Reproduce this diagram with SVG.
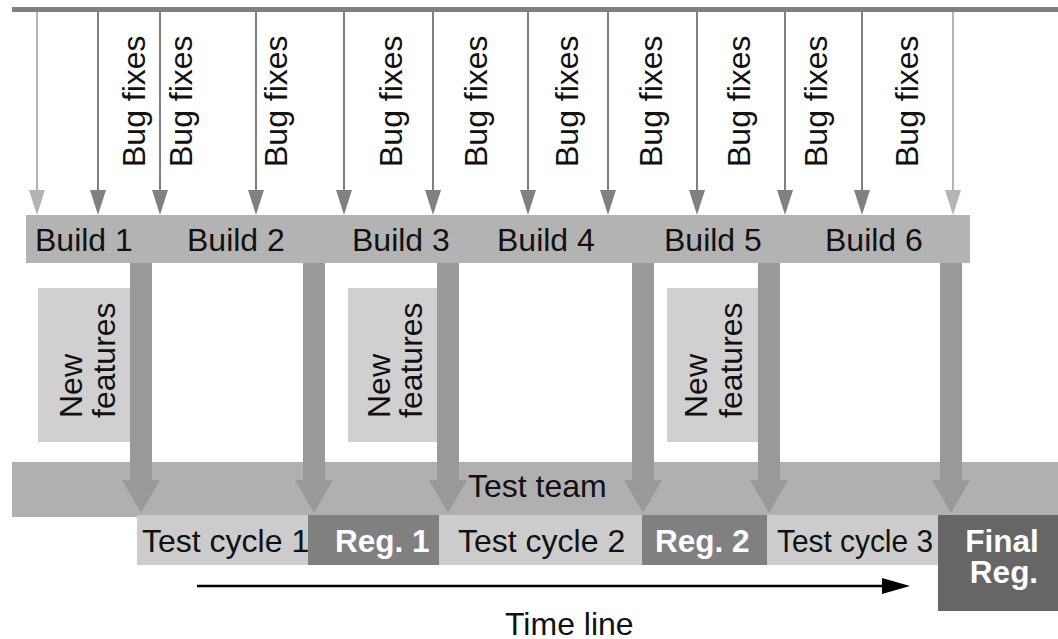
<svg xmlns="http://www.w3.org/2000/svg" width="1058" height="639" viewBox="0 0 1058 639">
<style>
text{font-family:"Liberation Sans",Arial,sans-serif;font-size:32px;fill:#111}
.w{fill:#fff;font-weight:bold;font-size:31.5px}
.thin{stroke:#808080;stroke-width:2;fill:none}
.thinL{stroke:#b4b4b4;stroke-width:2;fill:none}
.head{fill:#808080}
.headL{fill:#b4b4b4}
.thick{fill:#999999}
</style>
<rect x="12" y="7" width="1046" height="5" fill="#808080"/>
<g id="connectors">
<path class="thinL" d="M37 12V192"/><polygon class="headL" points="29,190 45,190 37,215"/>
<path class="thin" d="M98 12V192"/><polygon class="head" points="90,190 106,190 98,215"/>
<path class="thin" d="M160 12V192"/><polygon class="head" points="152,190 168,190 160,215"/>
<path class="thin" d="M256 12V192"/><polygon class="head" points="248,190 264,190 256,215"/>
<path class="thin" d="M344 12V192"/><polygon class="head" points="336,190 352,190 344,215"/>
<path class="thin" d="M433 12V192"/><polygon class="head" points="425,190 441,190 433,215"/>
<path class="thin" d="M528 12V192"/><polygon class="head" points="520,190 536,190 528,215"/>
<path class="thin" d="M608 12V192"/><polygon class="head" points="600,190 616,190 608,215"/>
<path class="thin" d="M697 12V192"/><polygon class="head" points="689,190 705,190 697,215"/>
<path class="thin" d="M785 12V192"/><polygon class="head" points="777,190 793,190 785,215"/>
<path class="thin" d="M862 12V192"/><polygon class="head" points="854,190 870,190 862,215"/>
<path class="thinL" d="M953 12V192"/><polygon class="headL" points="945,190 961,190 953,215"/>
</g>
<g id="bugfix-labels">
<text transform="translate(145,167) rotate(-90)">Bug fixes</text>
<text transform="translate(192,167) rotate(-90)">Bug fixes</text>
<text transform="translate(287,167) rotate(-90)">Bug fixes</text>
<text transform="translate(402,167) rotate(-90)">Bug fixes</text>
<text transform="translate(487,167) rotate(-90)">Bug fixes</text>
<text transform="translate(578,167) rotate(-90)">Bug fixes</text>
<text transform="translate(662,167) rotate(-90)">Bug fixes</text>
<text transform="translate(750,167) rotate(-90)">Bug fixes</text>
<text transform="translate(827,167) rotate(-90)">Bug fixes</text>
<text transform="translate(918,167) rotate(-90)">Bug fixes</text>
</g>
<g id="builds">
<rect x="26" y="215" width="944" height="48" fill="#b3b3b3"/>
<text x="35" y="251">Build 1</text>
<text x="187" y="251">Build 2</text>
<text x="352" y="251">Build 3</text>
<text x="497" y="251">Build 4</text>
<text x="664" y="251">Build 5</text>
<text x="825" y="251">Build 6</text>
</g>
<g id="new-features-1">
<rect x="38" y="288" width="100" height="154" fill="#d0d0d0"/>
<text transform="translate(82,418) rotate(-90)">New</text>
<text transform="translate(115,418) rotate(-90)">features</text>
</g>
<g id="new-features-2">
<rect x="348" y="288" width="100" height="154" fill="#d0d0d0"/>
<text transform="translate(390,418) rotate(-90)">New</text>
<text transform="translate(422,418) rotate(-90)">features</text>
</g>
<g id="new-features-3">
<rect x="667" y="288" width="100" height="154" fill="#d0d0d0"/>
<text transform="translate(707,418) rotate(-90)">New</text>
<text transform="translate(742,418) rotate(-90)">features</text>
</g>
<g id="test-team">
<rect x="12" y="462" width="1046" height="55" fill="#b0b0b0"/>
<text x="468" y="497">Test team</text>
</g>
<g id="thick-arrows">
<polygon class="thick" points="130,263 152,263 152,480 160,480 141,513 122,480 130,480"/>
<polygon class="thick" points="303,263 325,263 325,480 333,480 314,513 295,480 303,480"/>
<polygon class="thick" points="437,263 459,263 459,480 467,480 448,513 429,480 437,480"/>
<polygon class="thick" points="632,263 654,263 654,480 662,480 643,513 624,480 632,480"/>
<polygon class="thick" points="758,263 780,263 780,480 788,480 769,513 750,480 758,480"/>
<polygon class="thick" points="940,263 962,263 962,480 970,480 951,513 932,480 940,480"/>
</g>
<g id="test-cycle-1">
<rect x="137" y="515" width="171" height="50" fill="#cccccc"/>
<text x="142" y="552">Test cycle 1</text>
</g>
<g id="reg-1">
<rect x="308" y="515" width="131" height="50" fill="#808080"/>
<text class="w" x="335" y="552">Reg. 1</text>
</g>
<g id="test-cycle-2">
<rect x="439" y="515" width="203" height="50" fill="#cccccc"/>
<text x="458" y="552">Test cycle 2</text>
</g>
<g id="reg-2">
<rect x="642" y="515" width="125" height="50" fill="#808080"/>
<text class="w" x="655" y="552">Reg. 2</text>
</g>
<g id="test-cycle-3">
<rect x="767" y="515" width="171" height="50" fill="#cccccc"/>
<text x="777" y="552" textLength="156" lengthAdjust="spacingAndGlyphs">Test cycle 3</text>
</g>
<g id="final-reg">
<rect x="938" y="515" width="120" height="96" fill="#666666"/>
<text class="w" x="1002" y="552" text-anchor="middle">Final</text>
<text class="w" x="1004" y="583" text-anchor="middle">Reg.</text>
</g>
<g id="timeline">
<path d="M197 586H890" stroke="#000" stroke-width="2.5"/>
<polygon points="882,578 910,586 882,594" fill="#000"/>
<text x="505" y="635">Time line</text>
</g>
</svg>
